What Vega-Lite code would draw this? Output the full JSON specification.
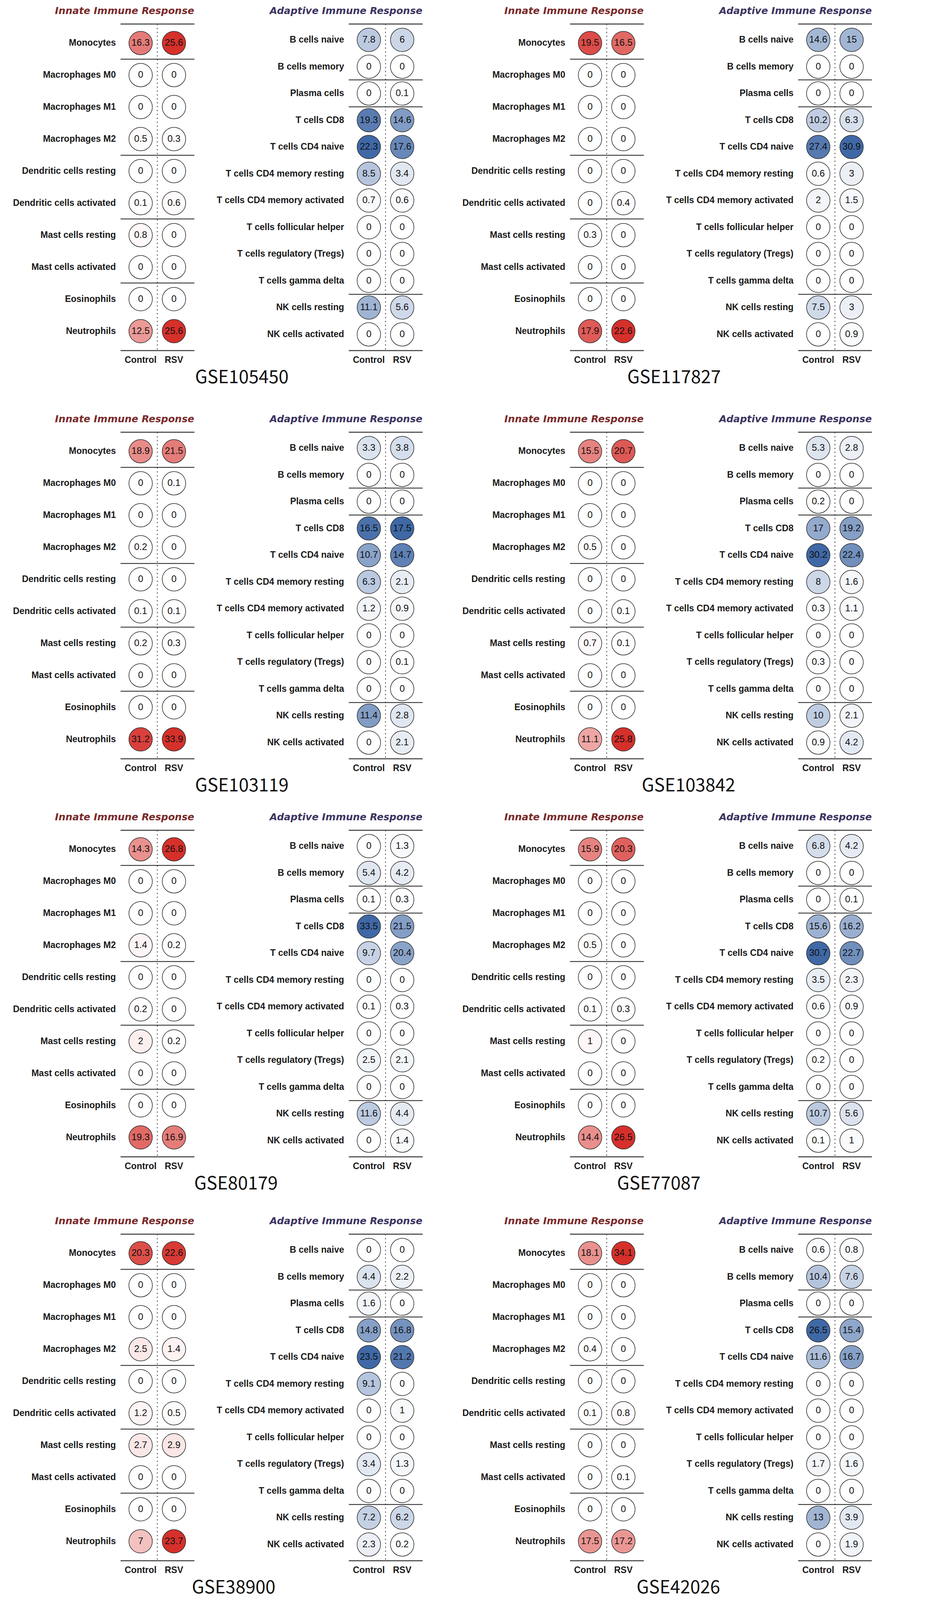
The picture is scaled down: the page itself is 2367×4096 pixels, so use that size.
{
"$schema": "https://vega.github.io/schema/vega-lite/v6.json",
"padding": {"left": 32, "top": 16, "right": 0, "bottom": 5},
"background": "white",
"data": {"values": [
{"gse":"GSE105450","panel":"Innate","cell":"Monocytes","group":"Control","value":16.3},
{"gse":"GSE105450","panel":"Innate","cell":"Monocytes","group":"RSV","value":25.6},
{"gse":"GSE105450","panel":"Innate","cell":"Macrophages M0","group":"Control","value":0},
{"gse":"GSE105450","panel":"Innate","cell":"Macrophages M0","group":"RSV","value":0},
{"gse":"GSE105450","panel":"Innate","cell":"Macrophages M1","group":"Control","value":0},
{"gse":"GSE105450","panel":"Innate","cell":"Macrophages M1","group":"RSV","value":0},
{"gse":"GSE105450","panel":"Innate","cell":"Macrophages M2","group":"Control","value":0.5},
{"gse":"GSE105450","panel":"Innate","cell":"Macrophages M2","group":"RSV","value":0.3},
{"gse":"GSE105450","panel":"Innate","cell":"Dendritic cells resting","group":"Control","value":0},
{"gse":"GSE105450","panel":"Innate","cell":"Dendritic cells resting","group":"RSV","value":0},
{"gse":"GSE105450","panel":"Innate","cell":"Dendritic cells activated","group":"Control","value":0.1},
{"gse":"GSE105450","panel":"Innate","cell":"Dendritic cells activated","group":"RSV","value":0.6},
{"gse":"GSE105450","panel":"Innate","cell":"Mast cells resting","group":"Control","value":0.8},
{"gse":"GSE105450","panel":"Innate","cell":"Mast cells resting","group":"RSV","value":0},
{"gse":"GSE105450","panel":"Innate","cell":"Mast cells activated","group":"Control","value":0},
{"gse":"GSE105450","panel":"Innate","cell":"Mast cells activated","group":"RSV","value":0},
{"gse":"GSE105450","panel":"Innate","cell":"Eosinophils","group":"Control","value":0},
{"gse":"GSE105450","panel":"Innate","cell":"Eosinophils","group":"RSV","value":0},
{"gse":"GSE105450","panel":"Innate","cell":"Neutrophils","group":"Control","value":12.5},
{"gse":"GSE105450","panel":"Innate","cell":"Neutrophils","group":"RSV","value":25.6},
{"gse":"GSE105450","panel":"Adaptive","cell":"B cells naive","group":"Control","value":7.8},
{"gse":"GSE105450","panel":"Adaptive","cell":"B cells naive","group":"RSV","value":6},
{"gse":"GSE105450","panel":"Adaptive","cell":"B cells memory","group":"Control","value":0},
{"gse":"GSE105450","panel":"Adaptive","cell":"B cells memory","group":"RSV","value":0},
{"gse":"GSE105450","panel":"Adaptive","cell":"Plasma cells","group":"Control","value":0},
{"gse":"GSE105450","panel":"Adaptive","cell":"Plasma cells","group":"RSV","value":0.1},
{"gse":"GSE105450","panel":"Adaptive","cell":"T cells CD8","group":"Control","value":19.3},
{"gse":"GSE105450","panel":"Adaptive","cell":"T cells CD8","group":"RSV","value":14.6},
{"gse":"GSE105450","panel":"Adaptive","cell":"T cells CD4 naive","group":"Control","value":22.3},
{"gse":"GSE105450","panel":"Adaptive","cell":"T cells CD4 naive","group":"RSV","value":17.6},
{"gse":"GSE105450","panel":"Adaptive","cell":"T cells CD4 memory resting","group":"Control","value":8.5},
{"gse":"GSE105450","panel":"Adaptive","cell":"T cells CD4 memory resting","group":"RSV","value":3.4},
{"gse":"GSE105450","panel":"Adaptive","cell":"T cells CD4 memory activated","group":"Control","value":0.7},
{"gse":"GSE105450","panel":"Adaptive","cell":"T cells CD4 memory activated","group":"RSV","value":0.6},
{"gse":"GSE105450","panel":"Adaptive","cell":"T cells follicular helper","group":"Control","value":0},
{"gse":"GSE105450","panel":"Adaptive","cell":"T cells follicular helper","group":"RSV","value":0},
{"gse":"GSE105450","panel":"Adaptive","cell":"T cells regulatory (Tregs)","group":"Control","value":0},
{"gse":"GSE105450","panel":"Adaptive","cell":"T cells regulatory (Tregs)","group":"RSV","value":0},
{"gse":"GSE105450","panel":"Adaptive","cell":"T cells gamma delta","group":"Control","value":0},
{"gse":"GSE105450","panel":"Adaptive","cell":"T cells gamma delta","group":"RSV","value":0},
{"gse":"GSE105450","panel":"Adaptive","cell":"NK cells resting","group":"Control","value":11.1},
{"gse":"GSE105450","panel":"Adaptive","cell":"NK cells resting","group":"RSV","value":5.6},
{"gse":"GSE105450","panel":"Adaptive","cell":"NK cells activated","group":"Control","value":0},
{"gse":"GSE105450","panel":"Adaptive","cell":"NK cells activated","group":"RSV","value":0},

{"gse":"GSE117827","panel":"Innate","cell":"Monocytes","group":"Control","value":19.5},
{"gse":"GSE117827","panel":"Innate","cell":"Monocytes","group":"RSV","value":16.5},
{"gse":"GSE117827","panel":"Innate","cell":"Macrophages M0","group":"Control","value":0},
{"gse":"GSE117827","panel":"Innate","cell":"Macrophages M0","group":"RSV","value":0},
{"gse":"GSE117827","panel":"Innate","cell":"Macrophages M1","group":"Control","value":0},
{"gse":"GSE117827","panel":"Innate","cell":"Macrophages M1","group":"RSV","value":0},
{"gse":"GSE117827","panel":"Innate","cell":"Macrophages M2","group":"Control","value":0},
{"gse":"GSE117827","panel":"Innate","cell":"Macrophages M2","group":"RSV","value":0},
{"gse":"GSE117827","panel":"Innate","cell":"Dendritic cells resting","group":"Control","value":0},
{"gse":"GSE117827","panel":"Innate","cell":"Dendritic cells resting","group":"RSV","value":0},
{"gse":"GSE117827","panel":"Innate","cell":"Dendritic cells activated","group":"Control","value":0},
{"gse":"GSE117827","panel":"Innate","cell":"Dendritic cells activated","group":"RSV","value":0.4},
{"gse":"GSE117827","panel":"Innate","cell":"Mast cells resting","group":"Control","value":0.3},
{"gse":"GSE117827","panel":"Innate","cell":"Mast cells resting","group":"RSV","value":0},
{"gse":"GSE117827","panel":"Innate","cell":"Mast cells activated","group":"Control","value":0},
{"gse":"GSE117827","panel":"Innate","cell":"Mast cells activated","group":"RSV","value":0},
{"gse":"GSE117827","panel":"Innate","cell":"Eosinophils","group":"Control","value":0},
{"gse":"GSE117827","panel":"Innate","cell":"Eosinophils","group":"RSV","value":0},
{"gse":"GSE117827","panel":"Innate","cell":"Neutrophils","group":"Control","value":17.9},
{"gse":"GSE117827","panel":"Innate","cell":"Neutrophils","group":"RSV","value":22.6},
{"gse":"GSE117827","panel":"Adaptive","cell":"B cells naive","group":"Control","value":14.6},
{"gse":"GSE117827","panel":"Adaptive","cell":"B cells naive","group":"RSV","value":15},
{"gse":"GSE117827","panel":"Adaptive","cell":"B cells memory","group":"Control","value":0},
{"gse":"GSE117827","panel":"Adaptive","cell":"B cells memory","group":"RSV","value":0},
{"gse":"GSE117827","panel":"Adaptive","cell":"Plasma cells","group":"Control","value":0},
{"gse":"GSE117827","panel":"Adaptive","cell":"Plasma cells","group":"RSV","value":0},
{"gse":"GSE117827","panel":"Adaptive","cell":"T cells CD8","group":"Control","value":10.2},
{"gse":"GSE117827","panel":"Adaptive","cell":"T cells CD8","group":"RSV","value":6.3},
{"gse":"GSE117827","panel":"Adaptive","cell":"T cells CD4 naive","group":"Control","value":27.4},
{"gse":"GSE117827","panel":"Adaptive","cell":"T cells CD4 naive","group":"RSV","value":30.9},
{"gse":"GSE117827","panel":"Adaptive","cell":"T cells CD4 memory resting","group":"Control","value":0.6},
{"gse":"GSE117827","panel":"Adaptive","cell":"T cells CD4 memory resting","group":"RSV","value":3},
{"gse":"GSE117827","panel":"Adaptive","cell":"T cells CD4 memory activated","group":"Control","value":2},
{"gse":"GSE117827","panel":"Adaptive","cell":"T cells CD4 memory activated","group":"RSV","value":1.5},
{"gse":"GSE117827","panel":"Adaptive","cell":"T cells follicular helper","group":"Control","value":0},
{"gse":"GSE117827","panel":"Adaptive","cell":"T cells follicular helper","group":"RSV","value":0},
{"gse":"GSE117827","panel":"Adaptive","cell":"T cells regulatory (Tregs)","group":"Control","value":0},
{"gse":"GSE117827","panel":"Adaptive","cell":"T cells regulatory (Tregs)","group":"RSV","value":0},
{"gse":"GSE117827","panel":"Adaptive","cell":"T cells gamma delta","group":"Control","value":0},
{"gse":"GSE117827","panel":"Adaptive","cell":"T cells gamma delta","group":"RSV","value":0},
{"gse":"GSE117827","panel":"Adaptive","cell":"NK cells resting","group":"Control","value":7.5},
{"gse":"GSE117827","panel":"Adaptive","cell":"NK cells resting","group":"RSV","value":3},
{"gse":"GSE117827","panel":"Adaptive","cell":"NK cells activated","group":"Control","value":0},
{"gse":"GSE117827","panel":"Adaptive","cell":"NK cells activated","group":"RSV","value":0.9},

{"gse":"GSE103119","panel":"Innate","cell":"Monocytes","group":"Control","value":18.9},
{"gse":"GSE103119","panel":"Innate","cell":"Monocytes","group":"RSV","value":21.5},
{"gse":"GSE103119","panel":"Innate","cell":"Macrophages M0","group":"Control","value":0},
{"gse":"GSE103119","panel":"Innate","cell":"Macrophages M0","group":"RSV","value":0.1},
{"gse":"GSE103119","panel":"Innate","cell":"Macrophages M1","group":"Control","value":0},
{"gse":"GSE103119","panel":"Innate","cell":"Macrophages M1","group":"RSV","value":0},
{"gse":"GSE103119","panel":"Innate","cell":"Macrophages M2","group":"Control","value":0.2},
{"gse":"GSE103119","panel":"Innate","cell":"Macrophages M2","group":"RSV","value":0},
{"gse":"GSE103119","panel":"Innate","cell":"Dendritic cells resting","group":"Control","value":0},
{"gse":"GSE103119","panel":"Innate","cell":"Dendritic cells resting","group":"RSV","value":0},
{"gse":"GSE103119","panel":"Innate","cell":"Dendritic cells activated","group":"Control","value":0.1},
{"gse":"GSE103119","panel":"Innate","cell":"Dendritic cells activated","group":"RSV","value":0.1},
{"gse":"GSE103119","panel":"Innate","cell":"Mast cells resting","group":"Control","value":0.2},
{"gse":"GSE103119","panel":"Innate","cell":"Mast cells resting","group":"RSV","value":0.3},
{"gse":"GSE103119","panel":"Innate","cell":"Mast cells activated","group":"Control","value":0},
{"gse":"GSE103119","panel":"Innate","cell":"Mast cells activated","group":"RSV","value":0},
{"gse":"GSE103119","panel":"Innate","cell":"Eosinophils","group":"Control","value":0},
{"gse":"GSE103119","panel":"Innate","cell":"Eosinophils","group":"RSV","value":0},
{"gse":"GSE103119","panel":"Innate","cell":"Neutrophils","group":"Control","value":31.2},
{"gse":"GSE103119","panel":"Innate","cell":"Neutrophils","group":"RSV","value":33.9},
{"gse":"GSE103119","panel":"Adaptive","cell":"B cells naive","group":"Control","value":3.3},
{"gse":"GSE103119","panel":"Adaptive","cell":"B cells naive","group":"RSV","value":3.8},
{"gse":"GSE103119","panel":"Adaptive","cell":"B cells memory","group":"Control","value":0},
{"gse":"GSE103119","panel":"Adaptive","cell":"B cells memory","group":"RSV","value":0},
{"gse":"GSE103119","panel":"Adaptive","cell":"Plasma cells","group":"Control","value":0},
{"gse":"GSE103119","panel":"Adaptive","cell":"Plasma cells","group":"RSV","value":0},
{"gse":"GSE103119","panel":"Adaptive","cell":"T cells CD8","group":"Control","value":16.5},
{"gse":"GSE103119","panel":"Adaptive","cell":"T cells CD8","group":"RSV","value":17.5},
{"gse":"GSE103119","panel":"Adaptive","cell":"T cells CD4 naive","group":"Control","value":10.7},
{"gse":"GSE103119","panel":"Adaptive","cell":"T cells CD4 naive","group":"RSV","value":14.7},
{"gse":"GSE103119","panel":"Adaptive","cell":"T cells CD4 memory resting","group":"Control","value":6.3},
{"gse":"GSE103119","panel":"Adaptive","cell":"T cells CD4 memory resting","group":"RSV","value":2.1},
{"gse":"GSE103119","panel":"Adaptive","cell":"T cells CD4 memory activated","group":"Control","value":1.2},
{"gse":"GSE103119","panel":"Adaptive","cell":"T cells CD4 memory activated","group":"RSV","value":0.9},
{"gse":"GSE103119","panel":"Adaptive","cell":"T cells follicular helper","group":"Control","value":0},
{"gse":"GSE103119","panel":"Adaptive","cell":"T cells follicular helper","group":"RSV","value":0},
{"gse":"GSE103119","panel":"Adaptive","cell":"T cells regulatory (Tregs)","group":"Control","value":0},
{"gse":"GSE103119","panel":"Adaptive","cell":"T cells regulatory (Tregs)","group":"RSV","value":0.1},
{"gse":"GSE103119","panel":"Adaptive","cell":"T cells gamma delta","group":"Control","value":0},
{"gse":"GSE103119","panel":"Adaptive","cell":"T cells gamma delta","group":"RSV","value":0},
{"gse":"GSE103119","panel":"Adaptive","cell":"NK cells resting","group":"Control","value":11.4},
{"gse":"GSE103119","panel":"Adaptive","cell":"NK cells resting","group":"RSV","value":2.8},
{"gse":"GSE103119","panel":"Adaptive","cell":"NK cells activated","group":"Control","value":0},
{"gse":"GSE103119","panel":"Adaptive","cell":"NK cells activated","group":"RSV","value":2.1},

{"gse":"GSE103842","panel":"Innate","cell":"Monocytes","group":"Control","value":15.5},
{"gse":"GSE103842","panel":"Innate","cell":"Monocytes","group":"RSV","value":20.7},
{"gse":"GSE103842","panel":"Innate","cell":"Macrophages M0","group":"Control","value":0},
{"gse":"GSE103842","panel":"Innate","cell":"Macrophages M0","group":"RSV","value":0},
{"gse":"GSE103842","panel":"Innate","cell":"Macrophages M1","group":"Control","value":0},
{"gse":"GSE103842","panel":"Innate","cell":"Macrophages M1","group":"RSV","value":0},
{"gse":"GSE103842","panel":"Innate","cell":"Macrophages M2","group":"Control","value":0.5},
{"gse":"GSE103842","panel":"Innate","cell":"Macrophages M2","group":"RSV","value":0},
{"gse":"GSE103842","panel":"Innate","cell":"Dendritic cells resting","group":"Control","value":0},
{"gse":"GSE103842","panel":"Innate","cell":"Dendritic cells resting","group":"RSV","value":0},
{"gse":"GSE103842","panel":"Innate","cell":"Dendritic cells activated","group":"Control","value":0},
{"gse":"GSE103842","panel":"Innate","cell":"Dendritic cells activated","group":"RSV","value":0.1},
{"gse":"GSE103842","panel":"Innate","cell":"Mast cells resting","group":"Control","value":0.7},
{"gse":"GSE103842","panel":"Innate","cell":"Mast cells resting","group":"RSV","value":0.1},
{"gse":"GSE103842","panel":"Innate","cell":"Mast cells activated","group":"Control","value":0},
{"gse":"GSE103842","panel":"Innate","cell":"Mast cells activated","group":"RSV","value":0},
{"gse":"GSE103842","panel":"Innate","cell":"Eosinophils","group":"Control","value":0},
{"gse":"GSE103842","panel":"Innate","cell":"Eosinophils","group":"RSV","value":0},
{"gse":"GSE103842","panel":"Innate","cell":"Neutrophils","group":"Control","value":11.1},
{"gse":"GSE103842","panel":"Innate","cell":"Neutrophils","group":"RSV","value":25.8},
{"gse":"GSE103842","panel":"Adaptive","cell":"B cells naive","group":"Control","value":5.3},
{"gse":"GSE103842","panel":"Adaptive","cell":"B cells naive","group":"RSV","value":2.8},
{"gse":"GSE103842","panel":"Adaptive","cell":"B cells memory","group":"Control","value":0},
{"gse":"GSE103842","panel":"Adaptive","cell":"B cells memory","group":"RSV","value":0},
{"gse":"GSE103842","panel":"Adaptive","cell":"Plasma cells","group":"Control","value":0.2},
{"gse":"GSE103842","panel":"Adaptive","cell":"Plasma cells","group":"RSV","value":0},
{"gse":"GSE103842","panel":"Adaptive","cell":"T cells CD8","group":"Control","value":17},
{"gse":"GSE103842","panel":"Adaptive","cell":"T cells CD8","group":"RSV","value":19.2},
{"gse":"GSE103842","panel":"Adaptive","cell":"T cells CD4 naive","group":"Control","value":30.2},
{"gse":"GSE103842","panel":"Adaptive","cell":"T cells CD4 naive","group":"RSV","value":22.4},
{"gse":"GSE103842","panel":"Adaptive","cell":"T cells CD4 memory resting","group":"Control","value":8},
{"gse":"GSE103842","panel":"Adaptive","cell":"T cells CD4 memory resting","group":"RSV","value":1.6},
{"gse":"GSE103842","panel":"Adaptive","cell":"T cells CD4 memory activated","group":"Control","value":0.3},
{"gse":"GSE103842","panel":"Adaptive","cell":"T cells CD4 memory activated","group":"RSV","value":1.1},
{"gse":"GSE103842","panel":"Adaptive","cell":"T cells follicular helper","group":"Control","value":0},
{"gse":"GSE103842","panel":"Adaptive","cell":"T cells follicular helper","group":"RSV","value":0},
{"gse":"GSE103842","panel":"Adaptive","cell":"T cells regulatory (Tregs)","group":"Control","value":0.3},
{"gse":"GSE103842","panel":"Adaptive","cell":"T cells regulatory (Tregs)","group":"RSV","value":0},
{"gse":"GSE103842","panel":"Adaptive","cell":"T cells gamma delta","group":"Control","value":0},
{"gse":"GSE103842","panel":"Adaptive","cell":"T cells gamma delta","group":"RSV","value":0},
{"gse":"GSE103842","panel":"Adaptive","cell":"NK cells resting","group":"Control","value":10},
{"gse":"GSE103842","panel":"Adaptive","cell":"NK cells resting","group":"RSV","value":2.1},
{"gse":"GSE103842","panel":"Adaptive","cell":"NK cells activated","group":"Control","value":0.9},
{"gse":"GSE103842","panel":"Adaptive","cell":"NK cells activated","group":"RSV","value":4.2},

{"gse":"GSE80179","panel":"Innate","cell":"Monocytes","group":"Control","value":14.3},
{"gse":"GSE80179","panel":"Innate","cell":"Monocytes","group":"RSV","value":26.8},
{"gse":"GSE80179","panel":"Innate","cell":"Macrophages M0","group":"Control","value":0},
{"gse":"GSE80179","panel":"Innate","cell":"Macrophages M0","group":"RSV","value":0},
{"gse":"GSE80179","panel":"Innate","cell":"Macrophages M1","group":"Control","value":0},
{"gse":"GSE80179","panel":"Innate","cell":"Macrophages M1","group":"RSV","value":0},
{"gse":"GSE80179","panel":"Innate","cell":"Macrophages M2","group":"Control","value":1.4},
{"gse":"GSE80179","panel":"Innate","cell":"Macrophages M2","group":"RSV","value":0.2},
{"gse":"GSE80179","panel":"Innate","cell":"Dendritic cells resting","group":"Control","value":0},
{"gse":"GSE80179","panel":"Innate","cell":"Dendritic cells resting","group":"RSV","value":0},
{"gse":"GSE80179","panel":"Innate","cell":"Dendritic cells activated","group":"Control","value":0.2},
{"gse":"GSE80179","panel":"Innate","cell":"Dendritic cells activated","group":"RSV","value":0},
{"gse":"GSE80179","panel":"Innate","cell":"Mast cells resting","group":"Control","value":2},
{"gse":"GSE80179","panel":"Innate","cell":"Mast cells resting","group":"RSV","value":0.2},
{"gse":"GSE80179","panel":"Innate","cell":"Mast cells activated","group":"Control","value":0},
{"gse":"GSE80179","panel":"Innate","cell":"Mast cells activated","group":"RSV","value":0},
{"gse":"GSE80179","panel":"Innate","cell":"Eosinophils","group":"Control","value":0},
{"gse":"GSE80179","panel":"Innate","cell":"Eosinophils","group":"RSV","value":0},
{"gse":"GSE80179","panel":"Innate","cell":"Neutrophils","group":"Control","value":19.3},
{"gse":"GSE80179","panel":"Innate","cell":"Neutrophils","group":"RSV","value":16.9},
{"gse":"GSE80179","panel":"Adaptive","cell":"B cells naive","group":"Control","value":0},
{"gse":"GSE80179","panel":"Adaptive","cell":"B cells naive","group":"RSV","value":1.3},
{"gse":"GSE80179","panel":"Adaptive","cell":"B cells memory","group":"Control","value":5.4},
{"gse":"GSE80179","panel":"Adaptive","cell":"B cells memory","group":"RSV","value":4.2},
{"gse":"GSE80179","panel":"Adaptive","cell":"Plasma cells","group":"Control","value":0.1},
{"gse":"GSE80179","panel":"Adaptive","cell":"Plasma cells","group":"RSV","value":0.3},
{"gse":"GSE80179","panel":"Adaptive","cell":"T cells CD8","group":"Control","value":33.5},
{"gse":"GSE80179","panel":"Adaptive","cell":"T cells CD8","group":"RSV","value":21.5},
{"gse":"GSE80179","panel":"Adaptive","cell":"T cells CD4 naive","group":"Control","value":9.7},
{"gse":"GSE80179","panel":"Adaptive","cell":"T cells CD4 naive","group":"RSV","value":20.4},
{"gse":"GSE80179","panel":"Adaptive","cell":"T cells CD4 memory resting","group":"Control","value":0},
{"gse":"GSE80179","panel":"Adaptive","cell":"T cells CD4 memory resting","group":"RSV","value":0},
{"gse":"GSE80179","panel":"Adaptive","cell":"T cells CD4 memory activated","group":"Control","value":0.1},
{"gse":"GSE80179","panel":"Adaptive","cell":"T cells CD4 memory activated","group":"RSV","value":0.3},
{"gse":"GSE80179","panel":"Adaptive","cell":"T cells follicular helper","group":"Control","value":0},
{"gse":"GSE80179","panel":"Adaptive","cell":"T cells follicular helper","group":"RSV","value":0},
{"gse":"GSE80179","panel":"Adaptive","cell":"T cells regulatory (Tregs)","group":"Control","value":2.5},
{"gse":"GSE80179","panel":"Adaptive","cell":"T cells regulatory (Tregs)","group":"RSV","value":2.1},
{"gse":"GSE80179","panel":"Adaptive","cell":"T cells gamma delta","group":"Control","value":0},
{"gse":"GSE80179","panel":"Adaptive","cell":"T cells gamma delta","group":"RSV","value":0},
{"gse":"GSE80179","panel":"Adaptive","cell":"NK cells resting","group":"Control","value":11.6},
{"gse":"GSE80179","panel":"Adaptive","cell":"NK cells resting","group":"RSV","value":4.4},
{"gse":"GSE80179","panel":"Adaptive","cell":"NK cells activated","group":"Control","value":0},
{"gse":"GSE80179","panel":"Adaptive","cell":"NK cells activated","group":"RSV","value":1.4},

{"gse":"GSE77087","panel":"Innate","cell":"Monocytes","group":"Control","value":15.9},
{"gse":"GSE77087","panel":"Innate","cell":"Monocytes","group":"RSV","value":20.3},
{"gse":"GSE77087","panel":"Innate","cell":"Macrophages M0","group":"Control","value":0},
{"gse":"GSE77087","panel":"Innate","cell":"Macrophages M0","group":"RSV","value":0},
{"gse":"GSE77087","panel":"Innate","cell":"Macrophages M1","group":"Control","value":0},
{"gse":"GSE77087","panel":"Innate","cell":"Macrophages M1","group":"RSV","value":0},
{"gse":"GSE77087","panel":"Innate","cell":"Macrophages M2","group":"Control","value":0.5},
{"gse":"GSE77087","panel":"Innate","cell":"Macrophages M2","group":"RSV","value":0},
{"gse":"GSE77087","panel":"Innate","cell":"Dendritic cells resting","group":"Control","value":0},
{"gse":"GSE77087","panel":"Innate","cell":"Dendritic cells resting","group":"RSV","value":0},
{"gse":"GSE77087","panel":"Innate","cell":"Dendritic cells activated","group":"Control","value":0.1},
{"gse":"GSE77087","panel":"Innate","cell":"Dendritic cells activated","group":"RSV","value":0.3},
{"gse":"GSE77087","panel":"Innate","cell":"Mast cells resting","group":"Control","value":1},
{"gse":"GSE77087","panel":"Innate","cell":"Mast cells resting","group":"RSV","value":0},
{"gse":"GSE77087","panel":"Innate","cell":"Mast cells activated","group":"Control","value":0},
{"gse":"GSE77087","panel":"Innate","cell":"Mast cells activated","group":"RSV","value":0},
{"gse":"GSE77087","panel":"Innate","cell":"Eosinophils","group":"Control","value":0},
{"gse":"GSE77087","panel":"Innate","cell":"Eosinophils","group":"RSV","value":0},
{"gse":"GSE77087","panel":"Innate","cell":"Neutrophils","group":"Control","value":14.4},
{"gse":"GSE77087","panel":"Innate","cell":"Neutrophils","group":"RSV","value":26.5},
{"gse":"GSE77087","panel":"Adaptive","cell":"B cells naive","group":"Control","value":6.8},
{"gse":"GSE77087","panel":"Adaptive","cell":"B cells naive","group":"RSV","value":4.2},
{"gse":"GSE77087","panel":"Adaptive","cell":"B cells memory","group":"Control","value":0},
{"gse":"GSE77087","panel":"Adaptive","cell":"B cells memory","group":"RSV","value":0},
{"gse":"GSE77087","panel":"Adaptive","cell":"Plasma cells","group":"Control","value":0},
{"gse":"GSE77087","panel":"Adaptive","cell":"Plasma cells","group":"RSV","value":0.1},
{"gse":"GSE77087","panel":"Adaptive","cell":"T cells CD8","group":"Control","value":15.6},
{"gse":"GSE77087","panel":"Adaptive","cell":"T cells CD8","group":"RSV","value":16.2},
{"gse":"GSE77087","panel":"Adaptive","cell":"T cells CD4 naive","group":"Control","value":30.7},
{"gse":"GSE77087","panel":"Adaptive","cell":"T cells CD4 naive","group":"RSV","value":22.7},
{"gse":"GSE77087","panel":"Adaptive","cell":"T cells CD4 memory resting","group":"Control","value":3.5},
{"gse":"GSE77087","panel":"Adaptive","cell":"T cells CD4 memory resting","group":"RSV","value":2.3},
{"gse":"GSE77087","panel":"Adaptive","cell":"T cells CD4 memory activated","group":"Control","value":0.6},
{"gse":"GSE77087","panel":"Adaptive","cell":"T cells CD4 memory activated","group":"RSV","value":0.9},
{"gse":"GSE77087","panel":"Adaptive","cell":"T cells follicular helper","group":"Control","value":0},
{"gse":"GSE77087","panel":"Adaptive","cell":"T cells follicular helper","group":"RSV","value":0},
{"gse":"GSE77087","panel":"Adaptive","cell":"T cells regulatory (Tregs)","group":"Control","value":0.2},
{"gse":"GSE77087","panel":"Adaptive","cell":"T cells regulatory (Tregs)","group":"RSV","value":0},
{"gse":"GSE77087","panel":"Adaptive","cell":"T cells gamma delta","group":"Control","value":0},
{"gse":"GSE77087","panel":"Adaptive","cell":"T cells gamma delta","group":"RSV","value":0},
{"gse":"GSE77087","panel":"Adaptive","cell":"NK cells resting","group":"Control","value":10.7},
{"gse":"GSE77087","panel":"Adaptive","cell":"NK cells resting","group":"RSV","value":5.6},
{"gse":"GSE77087","panel":"Adaptive","cell":"NK cells activated","group":"Control","value":0.1},
{"gse":"GSE77087","panel":"Adaptive","cell":"NK cells activated","group":"RSV","value":1},

{"gse":"GSE38900","panel":"Innate","cell":"Monocytes","group":"Control","value":20.3},
{"gse":"GSE38900","panel":"Innate","cell":"Monocytes","group":"RSV","value":22.6},
{"gse":"GSE38900","panel":"Innate","cell":"Macrophages M0","group":"Control","value":0},
{"gse":"GSE38900","panel":"Innate","cell":"Macrophages M0","group":"RSV","value":0},
{"gse":"GSE38900","panel":"Innate","cell":"Macrophages M1","group":"Control","value":0},
{"gse":"GSE38900","panel":"Innate","cell":"Macrophages M1","group":"RSV","value":0},
{"gse":"GSE38900","panel":"Innate","cell":"Macrophages M2","group":"Control","value":2.5},
{"gse":"GSE38900","panel":"Innate","cell":"Macrophages M2","group":"RSV","value":1.4},
{"gse":"GSE38900","panel":"Innate","cell":"Dendritic cells resting","group":"Control","value":0},
{"gse":"GSE38900","panel":"Innate","cell":"Dendritic cells resting","group":"RSV","value":0},
{"gse":"GSE38900","panel":"Innate","cell":"Dendritic cells activated","group":"Control","value":1.2},
{"gse":"GSE38900","panel":"Innate","cell":"Dendritic cells activated","group":"RSV","value":0.5},
{"gse":"GSE38900","panel":"Innate","cell":"Mast cells resting","group":"Control","value":2.7},
{"gse":"GSE38900","panel":"Innate","cell":"Mast cells resting","group":"RSV","value":2.9},
{"gse":"GSE38900","panel":"Innate","cell":"Mast cells activated","group":"Control","value":0},
{"gse":"GSE38900","panel":"Innate","cell":"Mast cells activated","group":"RSV","value":0},
{"gse":"GSE38900","panel":"Innate","cell":"Eosinophils","group":"Control","value":0},
{"gse":"GSE38900","panel":"Innate","cell":"Eosinophils","group":"RSV","value":0},
{"gse":"GSE38900","panel":"Innate","cell":"Neutrophils","group":"Control","value":7},
{"gse":"GSE38900","panel":"Innate","cell":"Neutrophils","group":"RSV","value":23.7},
{"gse":"GSE38900","panel":"Adaptive","cell":"B cells naive","group":"Control","value":0},
{"gse":"GSE38900","panel":"Adaptive","cell":"B cells naive","group":"RSV","value":0},
{"gse":"GSE38900","panel":"Adaptive","cell":"B cells memory","group":"Control","value":4.4},
{"gse":"GSE38900","panel":"Adaptive","cell":"B cells memory","group":"RSV","value":2.2},
{"gse":"GSE38900","panel":"Adaptive","cell":"Plasma cells","group":"Control","value":1.6},
{"gse":"GSE38900","panel":"Adaptive","cell":"Plasma cells","group":"RSV","value":0},
{"gse":"GSE38900","panel":"Adaptive","cell":"T cells CD8","group":"Control","value":14.8},
{"gse":"GSE38900","panel":"Adaptive","cell":"T cells CD8","group":"RSV","value":16.8},
{"gse":"GSE38900","panel":"Adaptive","cell":"T cells CD4 naive","group":"Control","value":23.5},
{"gse":"GSE38900","panel":"Adaptive","cell":"T cells CD4 naive","group":"RSV","value":21.2},
{"gse":"GSE38900","panel":"Adaptive","cell":"T cells CD4 memory resting","group":"Control","value":9.1},
{"gse":"GSE38900","panel":"Adaptive","cell":"T cells CD4 memory resting","group":"RSV","value":0},
{"gse":"GSE38900","panel":"Adaptive","cell":"T cells CD4 memory activated","group":"Control","value":0},
{"gse":"GSE38900","panel":"Adaptive","cell":"T cells CD4 memory activated","group":"RSV","value":1},
{"gse":"GSE38900","panel":"Adaptive","cell":"T cells follicular helper","group":"Control","value":0},
{"gse":"GSE38900","panel":"Adaptive","cell":"T cells follicular helper","group":"RSV","value":0},
{"gse":"GSE38900","panel":"Adaptive","cell":"T cells regulatory (Tregs)","group":"Control","value":3.4},
{"gse":"GSE38900","panel":"Adaptive","cell":"T cells regulatory (Tregs)","group":"RSV","value":1.3},
{"gse":"GSE38900","panel":"Adaptive","cell":"T cells gamma delta","group":"Control","value":0},
{"gse":"GSE38900","panel":"Adaptive","cell":"T cells gamma delta","group":"RSV","value":0},
{"gse":"GSE38900","panel":"Adaptive","cell":"NK cells resting","group":"Control","value":7.2},
{"gse":"GSE38900","panel":"Adaptive","cell":"NK cells resting","group":"RSV","value":6.2},
{"gse":"GSE38900","panel":"Adaptive","cell":"NK cells activated","group":"Control","value":2.3},
{"gse":"GSE38900","panel":"Adaptive","cell":"NK cells activated","group":"RSV","value":0.2},

{"gse":"GSE42026","panel":"Innate","cell":"Monocytes","group":"Control","value":18.1},
{"gse":"GSE42026","panel":"Innate","cell":"Monocytes","group":"RSV","value":34.1},
{"gse":"GSE42026","panel":"Innate","cell":"Macrophages M0","group":"Control","value":0},
{"gse":"GSE42026","panel":"Innate","cell":"Macrophages M0","group":"RSV","value":0},
{"gse":"GSE42026","panel":"Innate","cell":"Macrophages M1","group":"Control","value":0},
{"gse":"GSE42026","panel":"Innate","cell":"Macrophages M1","group":"RSV","value":0},
{"gse":"GSE42026","panel":"Innate","cell":"Macrophages M2","group":"Control","value":0.4},
{"gse":"GSE42026","panel":"Innate","cell":"Macrophages M2","group":"RSV","value":0},
{"gse":"GSE42026","panel":"Innate","cell":"Dendritic cells resting","group":"Control","value":0},
{"gse":"GSE42026","panel":"Innate","cell":"Dendritic cells resting","group":"RSV","value":0},
{"gse":"GSE42026","panel":"Innate","cell":"Dendritic cells activated","group":"Control","value":0.1},
{"gse":"GSE42026","panel":"Innate","cell":"Dendritic cells activated","group":"RSV","value":0.8},
{"gse":"GSE42026","panel":"Innate","cell":"Mast cells resting","group":"Control","value":0},
{"gse":"GSE42026","panel":"Innate","cell":"Mast cells resting","group":"RSV","value":0},
{"gse":"GSE42026","panel":"Innate","cell":"Mast cells activated","group":"Control","value":0},
{"gse":"GSE42026","panel":"Innate","cell":"Mast cells activated","group":"RSV","value":0.1},
{"gse":"GSE42026","panel":"Innate","cell":"Eosinophils","group":"Control","value":0},
{"gse":"GSE42026","panel":"Innate","cell":"Eosinophils","group":"RSV","value":0},
{"gse":"GSE42026","panel":"Innate","cell":"Neutrophils","group":"Control","value":17.5},
{"gse":"GSE42026","panel":"Innate","cell":"Neutrophils","group":"RSV","value":17.2},
{"gse":"GSE42026","panel":"Adaptive","cell":"B cells naive","group":"Control","value":0.6},
{"gse":"GSE42026","panel":"Adaptive","cell":"B cells naive","group":"RSV","value":0.8},
{"gse":"GSE42026","panel":"Adaptive","cell":"B cells memory","group":"Control","value":10.4},
{"gse":"GSE42026","panel":"Adaptive","cell":"B cells memory","group":"RSV","value":7.6},
{"gse":"GSE42026","panel":"Adaptive","cell":"Plasma cells","group":"Control","value":0},
{"gse":"GSE42026","panel":"Adaptive","cell":"Plasma cells","group":"RSV","value":0},
{"gse":"GSE42026","panel":"Adaptive","cell":"T cells CD8","group":"Control","value":26.5},
{"gse":"GSE42026","panel":"Adaptive","cell":"T cells CD8","group":"RSV","value":15.4},
{"gse":"GSE42026","panel":"Adaptive","cell":"T cells CD4 naive","group":"Control","value":11.6},
{"gse":"GSE42026","panel":"Adaptive","cell":"T cells CD4 naive","group":"RSV","value":16.7},
{"gse":"GSE42026","panel":"Adaptive","cell":"T cells CD4 memory resting","group":"Control","value":0},
{"gse":"GSE42026","panel":"Adaptive","cell":"T cells CD4 memory resting","group":"RSV","value":0},
{"gse":"GSE42026","panel":"Adaptive","cell":"T cells CD4 memory activated","group":"Control","value":0},
{"gse":"GSE42026","panel":"Adaptive","cell":"T cells CD4 memory activated","group":"RSV","value":0},
{"gse":"GSE42026","panel":"Adaptive","cell":"T cells follicular helper","group":"Control","value":0},
{"gse":"GSE42026","panel":"Adaptive","cell":"T cells follicular helper","group":"RSV","value":0},
{"gse":"GSE42026","panel":"Adaptive","cell":"T cells regulatory (Tregs)","group":"Control","value":1.7},
{"gse":"GSE42026","panel":"Adaptive","cell":"T cells regulatory (Tregs)","group":"RSV","value":1.6},
{"gse":"GSE42026","panel":"Adaptive","cell":"T cells gamma delta","group":"Control","value":0},
{"gse":"GSE42026","panel":"Adaptive","cell":"T cells gamma delta","group":"RSV","value":0},
{"gse":"GSE42026","panel":"Adaptive","cell":"NK cells resting","group":"Control","value":13},
{"gse":"GSE42026","panel":"Adaptive","cell":"NK cells resting","group":"RSV","value":3.9},
{"gse":"GSE42026","panel":"Adaptive","cell":"NK cells activated","group":"Control","value":0},
{"gse":"GSE42026","panel":"Adaptive","cell":"NK cells activated","group":"RSV","value":1.9}
]},
"spacing": 45,
"resolve": {"scale": {"fill": "independent"}},
"vconcat": [
{"spacing": 71, "resolve": {"scale": {"fill": "independent"}}, "vconcat": [
{"spacing": 101, "resolve": {"scale": {"fill": "independent"}}, "hconcat": [
{"title": {"text": "GSE105450", "orient": "bottom", "anchor": "middle", "font": "Noto Sans CJK SC", "fontSize": 46, "fontStyle": "normal", "fontWeight": "normal", "color": "#111111", "baseline": "top", "offset": 12, "dx": 62}, "spacing": 57, "resolve": {"scale": {"fill": "independent"}}, "hconcat": [
{"width":189,"height":836,"title":{"text":"Innate Immune Response","color":"#7a2a2a"},"transform":[{"filter":"datum.gse==='GSE105450' && datum.panel==='Innate'"}],"resolve":{"axis":{"x":"independent","y":"independent"}},"layer":[{"mark":{"type":"point","shape":"circle","filled":true,"size":3600,"stroke":"#2b2b2b","strokeWidth":1.5,"opacity":1},"encoding":{"x":{"field":"group","type":"nominal","scale":{"type":"band","domain":["Control","RSV"],"paddingInner":0,"paddingOuter":0.108},"axis":{"orient":"bottom","labelAngle":0,"domain":true,"labelPadding":13},"title":null},"y":{"field":"cell","type":"nominal","scale":{"type":"band","domain":["Monocytes","Macrophages M0","Macrophages M1","Macrophages M2","Dendritic cells resting","Dendritic cells activated","Mast cells resting","Mast cells activated","Eosinophils","Neutrophils"],"paddingInner":0,"paddingOuter":0.1},"axis":{"orient":"left"},"title":null},"fill":{"field":"value","type":"quantitative","scale":{"range":["#ffffff","#d6302b"],"zero":true,"interpolate":"rgb"},"legend":null}}},{"mark":{"type":"text","fontSize":24,"color":"#111111"},"encoding":{"x":{"field":"group","type":"nominal","scale":{"type":"band","domain":["Control","RSV"],"paddingInner":0,"paddingOuter":0.108},"axis":{"orient":"top","labels":false,"domain":true,"grid":true,"values":["RSV"],"bandPosition":0},"title":null},"y":{"field":"cell","type":"nominal","scale":{"type":"band","domain":["Monocytes","Macrophages M0","Macrophages M1","Macrophages M2","Dendritic cells resting","Dendritic cells activated","Mast cells resting","Mast cells activated","Eosinophils","Neutrophils"],"paddingInner":0,"paddingOuter":0.1},"axis":{"orient":"right","labels":false,"grid":true,"values":["Macrophages M0","Dendritic cells resting","Mast cells resting","Eosinophils"],"bandPosition":0},"title":null},"text":{"field":"value","type":"quantitative","format":"~g"}}}]},
{"width":189,"height":836,"title":{"text":"Adaptive Immune Response","color":"#3d3461"},"transform":[{"filter":"datum.gse==='GSE105450' && datum.panel==='Adaptive'"}],"resolve":{"axis":{"x":"independent","y":"independent"}},"layer":[{"mark":{"type":"point","shape":"circle","filled":true,"size":3600,"stroke":"#2b2b2b","strokeWidth":1.5,"opacity":1},"encoding":{"x":{"field":"group","type":"nominal","scale":{"type":"band","domain":["Control","RSV"],"paddingInner":0,"paddingOuter":0.108},"axis":{"orient":"bottom","labelAngle":0,"domain":true,"labelPadding":13},"title":null},"y":{"field":"cell","type":"nominal","scale":{"type":"band","domain":["B cells naive","B cells memory","Plasma cells","T cells CD8","T cells CD4 naive","T cells CD4 memory resting","T cells CD4 memory activated","T cells follicular helper","T cells regulatory (Tregs)","T cells gamma delta","NK cells resting","NK cells activated"],"paddingInner":0,"paddingOuter":0.1},"axis":{"orient":"left"},"title":null},"fill":{"field":"value","type":"quantitative","scale":{"range":["#ffffff","#3f68a6"],"zero":true,"interpolate":"rgb"},"legend":null}}},{"mark":{"type":"text","fontSize":24,"color":"#111111"},"encoding":{"x":{"field":"group","type":"nominal","scale":{"type":"band","domain":["Control","RSV"],"paddingInner":0,"paddingOuter":0.108},"axis":{"orient":"top","labels":false,"domain":true,"grid":true,"values":["RSV"],"bandPosition":0},"title":null},"y":{"field":"cell","type":"nominal","scale":{"type":"band","domain":["B cells naive","B cells memory","Plasma cells","T cells CD8","T cells CD4 naive","T cells CD4 memory resting","T cells CD4 memory activated","T cells follicular helper","T cells regulatory (Tregs)","T cells gamma delta","NK cells resting","NK cells activated"],"paddingInner":0,"paddingOuter":0.1},"axis":{"orient":"right","labels":false,"grid":true,"values":["Plasma cells","T cells CD8","NK cells resting"],"bandPosition":0},"title":null},"text":{"field":"value","type":"quantitative","format":"~g"}}}]}
]},
{"title": {"text": "GSE117827", "orient": "bottom", "anchor": "middle", "font": "Noto Sans CJK SC", "fontSize": 46, "fontStyle": "normal", "fontWeight": "normal", "color": "#111111", "baseline": "top", "offset": 12, "dx": 18}, "spacing": 57, "resolve": {"scale": {"fill": "independent"}}, "hconcat": [
{"width":189,"height":836,"title":{"text":"Innate Immune Response","color":"#7a2a2a"},"transform":[{"filter":"datum.gse==='GSE117827' && datum.panel==='Innate'"}],"resolve":{"axis":{"x":"independent","y":"independent"}},"layer":[{"mark":{"type":"point","shape":"circle","filled":true,"size":3600,"stroke":"#2b2b2b","strokeWidth":1.5,"opacity":1},"encoding":{"x":{"field":"group","type":"nominal","scale":{"type":"band","domain":["Control","RSV"],"paddingInner":0,"paddingOuter":0.108},"axis":{"orient":"bottom","labelAngle":0,"domain":true,"labelPadding":13},"title":null},"y":{"field":"cell","type":"nominal","scale":{"type":"band","domain":["Monocytes","Macrophages M0","Macrophages M1","Macrophages M2","Dendritic cells resting","Dendritic cells activated","Mast cells resting","Mast cells activated","Eosinophils","Neutrophils"],"paddingInner":0,"paddingOuter":0.1},"axis":{"orient":"left"},"title":null},"fill":{"field":"value","type":"quantitative","scale":{"range":["#ffffff","#d6302b"],"zero":true,"interpolate":"rgb"},"legend":null}}},{"mark":{"type":"text","fontSize":24,"color":"#111111"},"encoding":{"x":{"field":"group","type":"nominal","scale":{"type":"band","domain":["Control","RSV"],"paddingInner":0,"paddingOuter":0.108},"axis":{"orient":"top","labels":false,"domain":true,"grid":true,"values":["RSV"],"bandPosition":0},"title":null},"y":{"field":"cell","type":"nominal","scale":{"type":"band","domain":["Monocytes","Macrophages M0","Macrophages M1","Macrophages M2","Dendritic cells resting","Dendritic cells activated","Mast cells resting","Mast cells activated","Eosinophils","Neutrophils"],"paddingInner":0,"paddingOuter":0.1},"axis":{"orient":"right","labels":false,"grid":true,"values":["Macrophages M0","Dendritic cells resting","Mast cells resting","Eosinophils"],"bandPosition":0},"title":null},"text":{"field":"value","type":"quantitative","format":"~g"}}}]},
{"width":189,"height":836,"title":{"text":"Adaptive Immune Response","color":"#3d3461"},"transform":[{"filter":"datum.gse==='GSE117827' && datum.panel==='Adaptive'"}],"resolve":{"axis":{"x":"independent","y":"independent"}},"layer":[{"mark":{"type":"point","shape":"circle","filled":true,"size":3600,"stroke":"#2b2b2b","strokeWidth":1.5,"opacity":1},"encoding":{"x":{"field":"group","type":"nominal","scale":{"type":"band","domain":["Control","RSV"],"paddingInner":0,"paddingOuter":0.108},"axis":{"orient":"bottom","labelAngle":0,"domain":true,"labelPadding":13},"title":null},"y":{"field":"cell","type":"nominal","scale":{"type":"band","domain":["B cells naive","B cells memory","Plasma cells","T cells CD8","T cells CD4 naive","T cells CD4 memory resting","T cells CD4 memory activated","T cells follicular helper","T cells regulatory (Tregs)","T cells gamma delta","NK cells resting","NK cells activated"],"paddingInner":0,"paddingOuter":0.1},"axis":{"orient":"left"},"title":null},"fill":{"field":"value","type":"quantitative","scale":{"range":["#ffffff","#3f68a6"],"zero":true,"interpolate":"rgb"},"legend":null}}},{"mark":{"type":"text","fontSize":24,"color":"#111111"},"encoding":{"x":{"field":"group","type":"nominal","scale":{"type":"band","domain":["Control","RSV"],"paddingInner":0,"paddingOuter":0.108},"axis":{"orient":"top","labels":false,"domain":true,"grid":true,"values":["RSV"],"bandPosition":0},"title":null},"y":{"field":"cell","type":"nominal","scale":{"type":"band","domain":["B cells naive","B cells memory","Plasma cells","T cells CD8","T cells CD4 naive","T cells CD4 memory resting","T cells CD4 memory activated","T cells follicular helper","T cells regulatory (Tregs)","T cells gamma delta","NK cells resting","NK cells activated"],"paddingInner":0,"paddingOuter":0.1},"axis":{"orient":"right","labels":false,"grid":true,"values":["Plasma cells","T cells CD8","NK cells resting"],"bandPosition":0},"title":null},"text":{"field":"value","type":"quantitative","format":"~g"}}}]}
]}
]},
{"spacing": 101, "resolve": {"scale": {"fill": "independent"}}, "hconcat": [
{"title": {"text": "GSE103119", "orient": "bottom", "anchor": "middle", "font": "Noto Sans CJK SC", "fontSize": 46, "fontStyle": "normal", "fontWeight": "normal", "color": "#111111", "baseline": "top", "offset": 12, "dx": 62}, "spacing": 57, "resolve": {"scale": {"fill": "independent"}}, "hconcat": [
{"width":189,"height":836,"title":{"text":"Innate Immune Response","color":"#7a2a2a"},"transform":[{"filter":"datum.gse==='GSE103119' && datum.panel==='Innate'"}],"resolve":{"axis":{"x":"independent","y":"independent"}},"layer":[{"mark":{"type":"point","shape":"circle","filled":true,"size":3600,"stroke":"#2b2b2b","strokeWidth":1.5,"opacity":1},"encoding":{"x":{"field":"group","type":"nominal","scale":{"type":"band","domain":["Control","RSV"],"paddingInner":0,"paddingOuter":0.108},"axis":{"orient":"bottom","labelAngle":0,"domain":true,"labelPadding":13},"title":null},"y":{"field":"cell","type":"nominal","scale":{"type":"band","domain":["Monocytes","Macrophages M0","Macrophages M1","Macrophages M2","Dendritic cells resting","Dendritic cells activated","Mast cells resting","Mast cells activated","Eosinophils","Neutrophils"],"paddingInner":0,"paddingOuter":0.1},"axis":{"orient":"left"},"title":null},"fill":{"field":"value","type":"quantitative","scale":{"range":["#ffffff","#d6302b"],"zero":true,"interpolate":"rgb"},"legend":null}}},{"mark":{"type":"text","fontSize":24,"color":"#111111"},"encoding":{"x":{"field":"group","type":"nominal","scale":{"type":"band","domain":["Control","RSV"],"paddingInner":0,"paddingOuter":0.108},"axis":{"orient":"top","labels":false,"domain":true,"grid":true,"values":["RSV"],"bandPosition":0},"title":null},"y":{"field":"cell","type":"nominal","scale":{"type":"band","domain":["Monocytes","Macrophages M0","Macrophages M1","Macrophages M2","Dendritic cells resting","Dendritic cells activated","Mast cells resting","Mast cells activated","Eosinophils","Neutrophils"],"paddingInner":0,"paddingOuter":0.1},"axis":{"orient":"right","labels":false,"grid":true,"values":["Macrophages M0","Dendritic cells resting","Mast cells resting","Eosinophils"],"bandPosition":0},"title":null},"text":{"field":"value","type":"quantitative","format":"~g"}}}]},
{"width":189,"height":836,"title":{"text":"Adaptive Immune Response","color":"#3d3461"},"transform":[{"filter":"datum.gse==='GSE103119' && datum.panel==='Adaptive'"}],"resolve":{"axis":{"x":"independent","y":"independent"}},"layer":[{"mark":{"type":"point","shape":"circle","filled":true,"size":3600,"stroke":"#2b2b2b","strokeWidth":1.5,"opacity":1},"encoding":{"x":{"field":"group","type":"nominal","scale":{"type":"band","domain":["Control","RSV"],"paddingInner":0,"paddingOuter":0.108},"axis":{"orient":"bottom","labelAngle":0,"domain":true,"labelPadding":13},"title":null},"y":{"field":"cell","type":"nominal","scale":{"type":"band","domain":["B cells naive","B cells memory","Plasma cells","T cells CD8","T cells CD4 naive","T cells CD4 memory resting","T cells CD4 memory activated","T cells follicular helper","T cells regulatory (Tregs)","T cells gamma delta","NK cells resting","NK cells activated"],"paddingInner":0,"paddingOuter":0.1},"axis":{"orient":"left"},"title":null},"fill":{"field":"value","type":"quantitative","scale":{"range":["#ffffff","#3f68a6"],"zero":true,"interpolate":"rgb"},"legend":null}}},{"mark":{"type":"text","fontSize":24,"color":"#111111"},"encoding":{"x":{"field":"group","type":"nominal","scale":{"type":"band","domain":["Control","RSV"],"paddingInner":0,"paddingOuter":0.108},"axis":{"orient":"top","labels":false,"domain":true,"grid":true,"values":["RSV"],"bandPosition":0},"title":null},"y":{"field":"cell","type":"nominal","scale":{"type":"band","domain":["B cells naive","B cells memory","Plasma cells","T cells CD8","T cells CD4 naive","T cells CD4 memory resting","T cells CD4 memory activated","T cells follicular helper","T cells regulatory (Tregs)","T cells gamma delta","NK cells resting","NK cells activated"],"paddingInner":0,"paddingOuter":0.1},"axis":{"orient":"right","labels":false,"grid":true,"values":["Plasma cells","T cells CD8","NK cells resting"],"bandPosition":0},"title":null},"text":{"field":"value","type":"quantitative","format":"~g"}}}]}
]},
{"title": {"text": "GSE103842", "orient": "bottom", "anchor": "middle", "font": "Noto Sans CJK SC", "fontSize": 46, "fontStyle": "normal", "fontWeight": "normal", "color": "#111111", "baseline": "top", "offset": 12, "dx": 55}, "spacing": 57, "resolve": {"scale": {"fill": "independent"}}, "hconcat": [
{"width":189,"height":836,"title":{"text":"Innate Immune Response","color":"#7a2a2a"},"transform":[{"filter":"datum.gse==='GSE103842' && datum.panel==='Innate'"}],"resolve":{"axis":{"x":"independent","y":"independent"}},"layer":[{"mark":{"type":"point","shape":"circle","filled":true,"size":3600,"stroke":"#2b2b2b","strokeWidth":1.5,"opacity":1},"encoding":{"x":{"field":"group","type":"nominal","scale":{"type":"band","domain":["Control","RSV"],"paddingInner":0,"paddingOuter":0.108},"axis":{"orient":"bottom","labelAngle":0,"domain":true,"labelPadding":13},"title":null},"y":{"field":"cell","type":"nominal","scale":{"type":"band","domain":["Monocytes","Macrophages M0","Macrophages M1","Macrophages M2","Dendritic cells resting","Dendritic cells activated","Mast cells resting","Mast cells activated","Eosinophils","Neutrophils"],"paddingInner":0,"paddingOuter":0.1},"axis":{"orient":"left"},"title":null},"fill":{"field":"value","type":"quantitative","scale":{"range":["#ffffff","#d6302b"],"zero":true,"interpolate":"rgb"},"legend":null}}},{"mark":{"type":"text","fontSize":24,"color":"#111111"},"encoding":{"x":{"field":"group","type":"nominal","scale":{"type":"band","domain":["Control","RSV"],"paddingInner":0,"paddingOuter":0.108},"axis":{"orient":"top","labels":false,"domain":true,"grid":true,"values":["RSV"],"bandPosition":0},"title":null},"y":{"field":"cell","type":"nominal","scale":{"type":"band","domain":["Monocytes","Macrophages M0","Macrophages M1","Macrophages M2","Dendritic cells resting","Dendritic cells activated","Mast cells resting","Mast cells activated","Eosinophils","Neutrophils"],"paddingInner":0,"paddingOuter":0.1},"axis":{"orient":"right","labels":false,"grid":true,"values":["Macrophages M0","Dendritic cells resting","Mast cells resting","Eosinophils"],"bandPosition":0},"title":null},"text":{"field":"value","type":"quantitative","format":"~g"}}}]},
{"width":189,"height":836,"title":{"text":"Adaptive Immune Response","color":"#3d3461"},"transform":[{"filter":"datum.gse==='GSE103842' && datum.panel==='Adaptive'"}],"resolve":{"axis":{"x":"independent","y":"independent"}},"layer":[{"mark":{"type":"point","shape":"circle","filled":true,"size":3600,"stroke":"#2b2b2b","strokeWidth":1.5,"opacity":1},"encoding":{"x":{"field":"group","type":"nominal","scale":{"type":"band","domain":["Control","RSV"],"paddingInner":0,"paddingOuter":0.108},"axis":{"orient":"bottom","labelAngle":0,"domain":true,"labelPadding":13},"title":null},"y":{"field":"cell","type":"nominal","scale":{"type":"band","domain":["B cells naive","B cells memory","Plasma cells","T cells CD8","T cells CD4 naive","T cells CD4 memory resting","T cells CD4 memory activated","T cells follicular helper","T cells regulatory (Tregs)","T cells gamma delta","NK cells resting","NK cells activated"],"paddingInner":0,"paddingOuter":0.1},"axis":{"orient":"left"},"title":null},"fill":{"field":"value","type":"quantitative","scale":{"range":["#ffffff","#3f68a6"],"zero":true,"interpolate":"rgb"},"legend":null}}},{"mark":{"type":"text","fontSize":24,"color":"#111111"},"encoding":{"x":{"field":"group","type":"nominal","scale":{"type":"band","domain":["Control","RSV"],"paddingInner":0,"paddingOuter":0.108},"axis":{"orient":"top","labels":false,"domain":true,"grid":true,"values":["RSV"],"bandPosition":0},"title":null},"y":{"field":"cell","type":"nominal","scale":{"type":"band","domain":["B cells naive","B cells memory","Plasma cells","T cells CD8","T cells CD4 naive","T cells CD4 memory resting","T cells CD4 memory activated","T cells follicular helper","T cells regulatory (Tregs)","T cells gamma delta","NK cells resting","NK cells activated"],"paddingInner":0,"paddingOuter":0.1},"axis":{"orient":"right","labels":false,"grid":true,"values":["Plasma cells","T cells CD8","NK cells resting"],"bandPosition":0},"title":null},"text":{"field":"value","type":"quantitative","format":"~g"}}}]}
]}
]}
]},
{"spacing": 60, "resolve": {"scale": {"fill": "independent"}}, "vconcat": [
{"spacing": 101, "resolve": {"scale": {"fill": "independent"}}, "hconcat": [
{"title": {"text": "GSE80179", "orient": "bottom", "anchor": "middle", "font": "Noto Sans CJK SC", "fontSize": 46, "fontStyle": "normal", "fontWeight": "normal", "color": "#111111", "baseline": "top", "offset": 12, "dx": 47}, "spacing": 57, "resolve": {"scale": {"fill": "independent"}}, "hconcat": [
{"width":189,"height":836,"title":{"text":"Innate Immune Response","color":"#7a2a2a"},"transform":[{"filter":"datum.gse==='GSE80179' && datum.panel==='Innate'"}],"resolve":{"axis":{"x":"independent","y":"independent"}},"layer":[{"mark":{"type":"point","shape":"circle","filled":true,"size":3600,"stroke":"#2b2b2b","strokeWidth":1.5,"opacity":1},"encoding":{"x":{"field":"group","type":"nominal","scale":{"type":"band","domain":["Control","RSV"],"paddingInner":0,"paddingOuter":0.108},"axis":{"orient":"bottom","labelAngle":0,"domain":true,"labelPadding":13},"title":null},"y":{"field":"cell","type":"nominal","scale":{"type":"band","domain":["Monocytes","Macrophages M0","Macrophages M1","Macrophages M2","Dendritic cells resting","Dendritic cells activated","Mast cells resting","Mast cells activated","Eosinophils","Neutrophils"],"paddingInner":0,"paddingOuter":0.1},"axis":{"orient":"left"},"title":null},"fill":{"field":"value","type":"quantitative","scale":{"range":["#ffffff","#d6302b"],"zero":true,"interpolate":"rgb"},"legend":null}}},{"mark":{"type":"text","fontSize":24,"color":"#111111"},"encoding":{"x":{"field":"group","type":"nominal","scale":{"type":"band","domain":["Control","RSV"],"paddingInner":0,"paddingOuter":0.108},"axis":{"orient":"top","labels":false,"domain":true,"grid":true,"values":["RSV"],"bandPosition":0},"title":null},"y":{"field":"cell","type":"nominal","scale":{"type":"band","domain":["Monocytes","Macrophages M0","Macrophages M1","Macrophages M2","Dendritic cells resting","Dendritic cells activated","Mast cells resting","Mast cells activated","Eosinophils","Neutrophils"],"paddingInner":0,"paddingOuter":0.1},"axis":{"orient":"right","labels":false,"grid":true,"values":["Macrophages M0","Dendritic cells resting","Mast cells resting","Eosinophils"],"bandPosition":0},"title":null},"text":{"field":"value","type":"quantitative","format":"~g"}}}]},
{"width":189,"height":836,"title":{"text":"Adaptive Immune Response","color":"#3d3461"},"transform":[{"filter":"datum.gse==='GSE80179' && datum.panel==='Adaptive'"}],"resolve":{"axis":{"x":"independent","y":"independent"}},"layer":[{"mark":{"type":"point","shape":"circle","filled":true,"size":3600,"stroke":"#2b2b2b","strokeWidth":1.5,"opacity":1},"encoding":{"x":{"field":"group","type":"nominal","scale":{"type":"band","domain":["Control","RSV"],"paddingInner":0,"paddingOuter":0.108},"axis":{"orient":"bottom","labelAngle":0,"domain":true,"labelPadding":13},"title":null},"y":{"field":"cell","type":"nominal","scale":{"type":"band","domain":["B cells naive","B cells memory","Plasma cells","T cells CD8","T cells CD4 naive","T cells CD4 memory resting","T cells CD4 memory activated","T cells follicular helper","T cells regulatory (Tregs)","T cells gamma delta","NK cells resting","NK cells activated"],"paddingInner":0,"paddingOuter":0.1},"axis":{"orient":"left"},"title":null},"fill":{"field":"value","type":"quantitative","scale":{"range":["#ffffff","#3f68a6"],"zero":true,"interpolate":"rgb"},"legend":null}}},{"mark":{"type":"text","fontSize":24,"color":"#111111"},"encoding":{"x":{"field":"group","type":"nominal","scale":{"type":"band","domain":["Control","RSV"],"paddingInner":0,"paddingOuter":0.108},"axis":{"orient":"top","labels":false,"domain":true,"grid":true,"values":["RSV"],"bandPosition":0},"title":null},"y":{"field":"cell","type":"nominal","scale":{"type":"band","domain":["B cells naive","B cells memory","Plasma cells","T cells CD8","T cells CD4 naive","T cells CD4 memory resting","T cells CD4 memory activated","T cells follicular helper","T cells regulatory (Tregs)","T cells gamma delta","NK cells resting","NK cells activated"],"paddingInner":0,"paddingOuter":0.1},"axis":{"orient":"right","labels":false,"grid":true,"values":["Plasma cells","T cells CD8","NK cells resting"],"bandPosition":0},"title":null},"text":{"field":"value","type":"quantitative","format":"~g"}}}]}
]},
{"title": {"text": "GSE77087", "orient": "bottom", "anchor": "middle", "font": "Noto Sans CJK SC", "fontSize": 46, "fontStyle": "normal", "fontWeight": "normal", "color": "#111111", "baseline": "top", "offset": 12, "dx": -21}, "spacing": 57, "resolve": {"scale": {"fill": "independent"}}, "hconcat": [
{"width":189,"height":836,"title":{"text":"Innate Immune Response","color":"#7a2a2a"},"transform":[{"filter":"datum.gse==='GSE77087' && datum.panel==='Innate'"}],"resolve":{"axis":{"x":"independent","y":"independent"}},"layer":[{"mark":{"type":"point","shape":"circle","filled":true,"size":3600,"stroke":"#2b2b2b","strokeWidth":1.5,"opacity":1},"encoding":{"x":{"field":"group","type":"nominal","scale":{"type":"band","domain":["Control","RSV"],"paddingInner":0,"paddingOuter":0.108},"axis":{"orient":"bottom","labelAngle":0,"domain":true,"labelPadding":13},"title":null},"y":{"field":"cell","type":"nominal","scale":{"type":"band","domain":["Monocytes","Macrophages M0","Macrophages M1","Macrophages M2","Dendritic cells resting","Dendritic cells activated","Mast cells resting","Mast cells activated","Eosinophils","Neutrophils"],"paddingInner":0,"paddingOuter":0.1},"axis":{"orient":"left"},"title":null},"fill":{"field":"value","type":"quantitative","scale":{"range":["#ffffff","#d6302b"],"zero":true,"interpolate":"rgb"},"legend":null}}},{"mark":{"type":"text","fontSize":24,"color":"#111111"},"encoding":{"x":{"field":"group","type":"nominal","scale":{"type":"band","domain":["Control","RSV"],"paddingInner":0,"paddingOuter":0.108},"axis":{"orient":"top","labels":false,"domain":true,"grid":true,"values":["RSV"],"bandPosition":0},"title":null},"y":{"field":"cell","type":"nominal","scale":{"type":"band","domain":["Monocytes","Macrophages M0","Macrophages M1","Macrophages M2","Dendritic cells resting","Dendritic cells activated","Mast cells resting","Mast cells activated","Eosinophils","Neutrophils"],"paddingInner":0,"paddingOuter":0.1},"axis":{"orient":"right","labels":false,"grid":true,"values":["Macrophages M0","Dendritic cells resting","Mast cells resting","Eosinophils"],"bandPosition":0},"title":null},"text":{"field":"value","type":"quantitative","format":"~g"}}}]},
{"width":189,"height":836,"title":{"text":"Adaptive Immune Response","color":"#3d3461"},"transform":[{"filter":"datum.gse==='GSE77087' && datum.panel==='Adaptive'"}],"resolve":{"axis":{"x":"independent","y":"independent"}},"layer":[{"mark":{"type":"point","shape":"circle","filled":true,"size":3600,"stroke":"#2b2b2b","strokeWidth":1.5,"opacity":1},"encoding":{"x":{"field":"group","type":"nominal","scale":{"type":"band","domain":["Control","RSV"],"paddingInner":0,"paddingOuter":0.108},"axis":{"orient":"bottom","labelAngle":0,"domain":true,"labelPadding":13},"title":null},"y":{"field":"cell","type":"nominal","scale":{"type":"band","domain":["B cells naive","B cells memory","Plasma cells","T cells CD8","T cells CD4 naive","T cells CD4 memory resting","T cells CD4 memory activated","T cells follicular helper","T cells regulatory (Tregs)","T cells gamma delta","NK cells resting","NK cells activated"],"paddingInner":0,"paddingOuter":0.1},"axis":{"orient":"left"},"title":null},"fill":{"field":"value","type":"quantitative","scale":{"range":["#ffffff","#3f68a6"],"zero":true,"interpolate":"rgb"},"legend":null}}},{"mark":{"type":"text","fontSize":24,"color":"#111111"},"encoding":{"x":{"field":"group","type":"nominal","scale":{"type":"band","domain":["Control","RSV"],"paddingInner":0,"paddingOuter":0.108},"axis":{"orient":"top","labels":false,"domain":true,"grid":true,"values":["RSV"],"bandPosition":0},"title":null},"y":{"field":"cell","type":"nominal","scale":{"type":"band","domain":["B cells naive","B cells memory","Plasma cells","T cells CD8","T cells CD4 naive","T cells CD4 memory resting","T cells CD4 memory activated","T cells follicular helper","T cells regulatory (Tregs)","T cells gamma delta","NK cells resting","NK cells activated"],"paddingInner":0,"paddingOuter":0.1},"axis":{"orient":"right","labels":false,"grid":true,"values":["Plasma cells","T cells CD8","NK cells resting"],"bandPosition":0},"title":null},"text":{"field":"value","type":"quantitative","format":"~g"}}}]}
]}
]},
{"spacing": 101, "resolve": {"scale": {"fill": "independent"}}, "hconcat": [
{"title": {"text": "GSE38900", "orient": "bottom", "anchor": "middle", "font": "Noto Sans CJK SC", "fontSize": 46, "fontStyle": "normal", "fontWeight": "normal", "color": "#111111", "baseline": "top", "offset": 12, "dx": 41}, "spacing": 57, "resolve": {"scale": {"fill": "independent"}}, "hconcat": [
{"width":189,"height":836,"title":{"text":"Innate Immune Response","color":"#7a2a2a"},"transform":[{"filter":"datum.gse==='GSE38900' && datum.panel==='Innate'"}],"resolve":{"axis":{"x":"independent","y":"independent"}},"layer":[{"mark":{"type":"point","shape":"circle","filled":true,"size":3600,"stroke":"#2b2b2b","strokeWidth":1.5,"opacity":1},"encoding":{"x":{"field":"group","type":"nominal","scale":{"type":"band","domain":["Control","RSV"],"paddingInner":0,"paddingOuter":0.108},"axis":{"orient":"bottom","labelAngle":0,"domain":true,"labelPadding":13},"title":null},"y":{"field":"cell","type":"nominal","scale":{"type":"band","domain":["Monocytes","Macrophages M0","Macrophages M1","Macrophages M2","Dendritic cells resting","Dendritic cells activated","Mast cells resting","Mast cells activated","Eosinophils","Neutrophils"],"paddingInner":0,"paddingOuter":0.1},"axis":{"orient":"left"},"title":null},"fill":{"field":"value","type":"quantitative","scale":{"range":["#ffffff","#d6302b"],"zero":true,"interpolate":"rgb"},"legend":null}}},{"mark":{"type":"text","fontSize":24,"color":"#111111"},"encoding":{"x":{"field":"group","type":"nominal","scale":{"type":"band","domain":["Control","RSV"],"paddingInner":0,"paddingOuter":0.108},"axis":{"orient":"top","labels":false,"domain":true,"grid":true,"values":["RSV"],"bandPosition":0},"title":null},"y":{"field":"cell","type":"nominal","scale":{"type":"band","domain":["Monocytes","Macrophages M0","Macrophages M1","Macrophages M2","Dendritic cells resting","Dendritic cells activated","Mast cells resting","Mast cells activated","Eosinophils","Neutrophils"],"paddingInner":0,"paddingOuter":0.1},"axis":{"orient":"right","labels":false,"grid":true,"values":["Macrophages M0","Dendritic cells resting","Mast cells resting","Eosinophils"],"bandPosition":0},"title":null},"text":{"field":"value","type":"quantitative","format":"~g"}}}]},
{"width":189,"height":836,"title":{"text":"Adaptive Immune Response","color":"#3d3461"},"transform":[{"filter":"datum.gse==='GSE38900' && datum.panel==='Adaptive'"}],"resolve":{"axis":{"x":"independent","y":"independent"}},"layer":[{"mark":{"type":"point","shape":"circle","filled":true,"size":3600,"stroke":"#2b2b2b","strokeWidth":1.5,"opacity":1},"encoding":{"x":{"field":"group","type":"nominal","scale":{"type":"band","domain":["Control","RSV"],"paddingInner":0,"paddingOuter":0.108},"axis":{"orient":"bottom","labelAngle":0,"domain":true,"labelPadding":13},"title":null},"y":{"field":"cell","type":"nominal","scale":{"type":"band","domain":["B cells naive","B cells memory","Plasma cells","T cells CD8","T cells CD4 naive","T cells CD4 memory resting","T cells CD4 memory activated","T cells follicular helper","T cells regulatory (Tregs)","T cells gamma delta","NK cells resting","NK cells activated"],"paddingInner":0,"paddingOuter":0.1},"axis":{"orient":"left"},"title":null},"fill":{"field":"value","type":"quantitative","scale":{"range":["#ffffff","#3f68a6"],"zero":true,"interpolate":"rgb"},"legend":null}}},{"mark":{"type":"text","fontSize":24,"color":"#111111"},"encoding":{"x":{"field":"group","type":"nominal","scale":{"type":"band","domain":["Control","RSV"],"paddingInner":0,"paddingOuter":0.108},"axis":{"orient":"top","labels":false,"domain":true,"grid":true,"values":["RSV"],"bandPosition":0},"title":null},"y":{"field":"cell","type":"nominal","scale":{"type":"band","domain":["B cells naive","B cells memory","Plasma cells","T cells CD8","T cells CD4 naive","T cells CD4 memory resting","T cells CD4 memory activated","T cells follicular helper","T cells regulatory (Tregs)","T cells gamma delta","NK cells resting","NK cells activated"],"paddingInner":0,"paddingOuter":0.1},"axis":{"orient":"right","labels":false,"grid":true,"values":["Plasma cells","T cells CD8","NK cells resting"],"bandPosition":0},"title":null},"text":{"field":"value","type":"quantitative","format":"~g"}}}]}
]},
{"title": {"text": "GSE42026", "orient": "bottom", "anchor": "middle", "font": "Noto Sans CJK SC", "fontSize": 46, "fontStyle": "normal", "fontWeight": "normal", "color": "#111111", "baseline": "top", "offset": 12, "dx": 29}, "spacing": 57, "resolve": {"scale": {"fill": "independent"}}, "hconcat": [
{"width":189,"height":836,"title":{"text":"Innate Immune Response","color":"#7a2a2a"},"transform":[{"filter":"datum.gse==='GSE42026' && datum.panel==='Innate'"}],"resolve":{"axis":{"x":"independent","y":"independent"}},"layer":[{"mark":{"type":"point","shape":"circle","filled":true,"size":3600,"stroke":"#2b2b2b","strokeWidth":1.5,"opacity":1},"encoding":{"x":{"field":"group","type":"nominal","scale":{"type":"band","domain":["Control","RSV"],"paddingInner":0,"paddingOuter":0.108},"axis":{"orient":"bottom","labelAngle":0,"domain":true,"labelPadding":13},"title":null},"y":{"field":"cell","type":"nominal","scale":{"type":"band","domain":["Monocytes","Macrophages M0","Macrophages M1","Macrophages M2","Dendritic cells resting","Dendritic cells activated","Mast cells resting","Mast cells activated","Eosinophils","Neutrophils"],"paddingInner":0,"paddingOuter":0.1},"axis":{"orient":"left"},"title":null},"fill":{"field":"value","type":"quantitative","scale":{"range":["#ffffff","#d6302b"],"zero":true,"interpolate":"rgb"},"legend":null}}},{"mark":{"type":"text","fontSize":24,"color":"#111111"},"encoding":{"x":{"field":"group","type":"nominal","scale":{"type":"band","domain":["Control","RSV"],"paddingInner":0,"paddingOuter":0.108},"axis":{"orient":"top","labels":false,"domain":true,"grid":true,"values":["RSV"],"bandPosition":0},"title":null},"y":{"field":"cell","type":"nominal","scale":{"type":"band","domain":["Monocytes","Macrophages M0","Macrophages M1","Macrophages M2","Dendritic cells resting","Dendritic cells activated","Mast cells resting","Mast cells activated","Eosinophils","Neutrophils"],"paddingInner":0,"paddingOuter":0.1},"axis":{"orient":"right","labels":false,"grid":true,"values":["Macrophages M0","Dendritic cells resting","Mast cells resting","Eosinophils"],"bandPosition":0},"title":null},"text":{"field":"value","type":"quantitative","format":"~g"}}}]},
{"width":189,"height":836,"title":{"text":"Adaptive Immune Response","color":"#3d3461"},"transform":[{"filter":"datum.gse==='GSE42026' && datum.panel==='Adaptive'"}],"resolve":{"axis":{"x":"independent","y":"independent"}},"layer":[{"mark":{"type":"point","shape":"circle","filled":true,"size":3600,"stroke":"#2b2b2b","strokeWidth":1.5,"opacity":1},"encoding":{"x":{"field":"group","type":"nominal","scale":{"type":"band","domain":["Control","RSV"],"paddingInner":0,"paddingOuter":0.108},"axis":{"orient":"bottom","labelAngle":0,"domain":true,"labelPadding":13},"title":null},"y":{"field":"cell","type":"nominal","scale":{"type":"band","domain":["B cells naive","B cells memory","Plasma cells","T cells CD8","T cells CD4 naive","T cells CD4 memory resting","T cells CD4 memory activated","T cells follicular helper","T cells regulatory (Tregs)","T cells gamma delta","NK cells resting","NK cells activated"],"paddingInner":0,"paddingOuter":0.1},"axis":{"orient":"left"},"title":null},"fill":{"field":"value","type":"quantitative","scale":{"range":["#ffffff","#3f68a6"],"zero":true,"interpolate":"rgb"},"legend":null}}},{"mark":{"type":"text","fontSize":24,"color":"#111111"},"encoding":{"x":{"field":"group","type":"nominal","scale":{"type":"band","domain":["Control","RSV"],"paddingInner":0,"paddingOuter":0.108},"axis":{"orient":"top","labels":false,"domain":true,"grid":true,"values":["RSV"],"bandPosition":0},"title":null},"y":{"field":"cell","type":"nominal","scale":{"type":"band","domain":["B cells naive","B cells memory","Plasma cells","T cells CD8","T cells CD4 naive","T cells CD4 memory resting","T cells CD4 memory activated","T cells follicular helper","T cells regulatory (Tregs)","T cells gamma delta","NK cells resting","NK cells activated"],"paddingInner":0,"paddingOuter":0.1},"axis":{"orient":"right","labels":false,"grid":true,"values":["Plasma cells","T cells CD8","NK cells resting"],"bandPosition":0},"title":null},"text":{"field":"value","type":"quantitative","format":"~g"}}}]}
]}
]}
]}
],
"config": {
"font": "Liberation Sans",
"view": {"stroke": null},
"title": {"font": "DejaVu Sans", "fontSize": 25, "fontStyle": "italic", "fontWeight": "bold", "anchor": "end", "offset": 20, "baseline": "alphabetic"},
"axis": {"ticks": false, "domain": false, "grid": false, "labelFont": "Liberation Sans", "labelFontSize": 23, "labelFontWeight": "bold", "labelColor": "#1a1a1a"},
"axisX": {"domainColor": "#555555", "domainWidth": 3, "gridDash": [3, 7], "gridColor": "#333333", "gridWidth": 2},
"axisY": {"gridColor": "#1a1a1a", "gridWidth": 2, "labelPadding": 12, "labelLimit": 500}
}
}
